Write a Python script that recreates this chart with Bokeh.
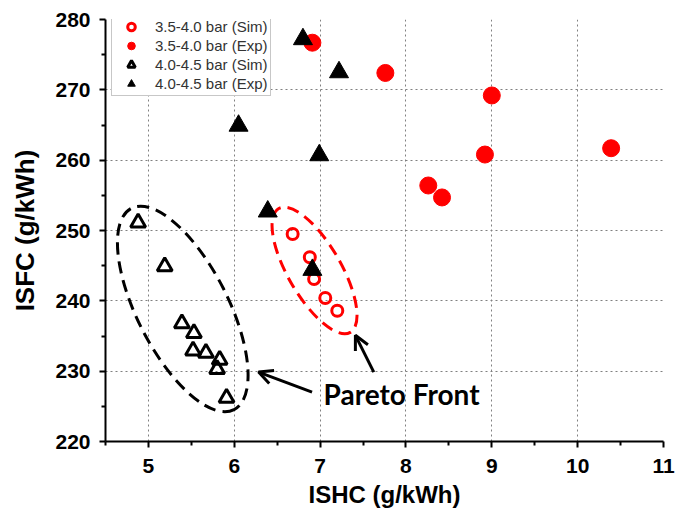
from bokeh.plotting import figure
from bokeh.models import (Range1d, FixedTicker, Arrow, OpenHead, Label, Legend,
                          LegendItem)
from bokeh.embed import file_html
from bokeh.resources import INLINE

# ---------------- data ----------------
sim35_x = [6.68, 6.88, 6.93, 7.06, 7.20]
sim35_y = [249.5, 246.2, 243.1, 240.4, 238.6]

exp35_x = [6.91, 7.76, 9.00, 8.92, 8.26, 8.42, 10.39]
exp35_y = [276.7, 272.4, 269.2, 260.8, 256.4, 254.7, 261.7]

sim45_x = [4.88, 5.19, 5.39, 5.53, 5.52, 5.67, 5.83, 5.80, 5.91]
sim45_y = [251.1, 244.9, 236.8, 235.4, 232.9, 232.6, 231.6, 230.3, 226.2]

exp45_x = [6.80, 7.22, 6.05, 6.99, 6.39, 6.91]
exp45_y = [277.2, 272.5, 264.9, 260.7, 252.7, 244.4]

series_labels = ["3.5-4.0 bar (Sim)", "3.5-4.0 bar (Exp)",
                 "4.0-4.5 bar (Sim)", "4.0-4.5 bar (Exp)"]

x_ticks = [5, 6, 7, 8, 9, 10, 11]
y_ticks = [220, 230, 240, 250, 260, 270, 280]

# Pareto-front ellipses (centres in data units)
front_cx = [5.40, 6.935]
front_cy = [238.85, 244.32]

# annotation: arrows (data units) and text
arrow_x0 = [6.906, 7.625]
arrow_y0 = [227.03, 229.87]
arrow_x1 = [6.283, 7.411]
arrow_y1 = [229.87, 235.1]
note_text = "Pareto Front"
note_x, note_y = 7.04, 226.7

RED = "#ff0000"
AX_FONT = "Liberation Sans"

p = figure(width=686, height=520, x_range=Range1d(4.5, 11), y_range=Range1d(220, 280),
           output_backend="svg", toolbar_location=None,
           min_border_left=105, min_border_right=23, min_border_top=19, min_border_bottom=79)
p.outline_line_color = None
p.background_fill_color = "white"

# axes
p.xaxis.ticker = FixedTicker(ticks=x_ticks, minor_ticks=[4.5, 5.5, 6.5, 7.5, 8.5, 9.5, 10.5])
p.yaxis.ticker = FixedTicker(ticks=y_ticks, minor_ticks=[225, 235, 245, 255, 265, 275])
p.xaxis.axis_label = "ISHC (g/kWh)"
p.yaxis.axis_label = "ISFC (g/kWh)"
for ax in (p.xaxis, p.yaxis):
    ax.axis_line_width = 2
    ax.axis_line_color = "black"
    ax.major_tick_line_width = 2
    ax.minor_tick_line_width = 2
    ax.major_tick_out = 6
    ax.major_tick_in = 0
    ax.minor_tick_out = 4
    ax.minor_tick_in = 0
    ax.major_label_text_font = AX_FONT
    ax.major_label_text_font_style = "bold"
    ax.major_label_text_font_size = "21px"
    ax.major_label_text_color = "black"
    ax.axis_label_text_font = AX_FONT
    ax.axis_label_text_font_style = "bold"
    ax.axis_label_text_color = "black"
p.xaxis.axis_label_text_font_size = "24px"
p.yaxis.axis_label_text_font_size = "26px"
p.xaxis.major_label_standoff = 11
p.xaxis.axis_label_standoff = 5
p.yaxis.major_label_standoff = 9
p.yaxis.axis_label_standoff = 12

# grid
p.xgrid.ticker = FixedTicker(ticks=[5, 6, 7, 8, 9, 10])
p.ygrid.ticker = FixedTicker(ticks=[230, 240, 250, 260, 270])
for g in (p.xgrid, p.ygrid):
    g.grid_line_color = "#808080"
    g.grid_line_dash = "2 3"
    g.grid_line_width = 1

# Pareto ellipses (screen-size)
p.ellipse(x=front_cx[0:1], y=front_cy[0:1], width=226, height=91, angle=-1.10,
          width_units="screen", height_units="screen",
          fill_color=None, line_color="black", line_width=3, line_dash="12 7")
p.ellipse(x=front_cx[1:2], y=front_cy[1:2], width=143, height=53, angle=-1.047,
          width_units="screen", height_units="screen",
          fill_color=None, line_color=RED, line_width=3, line_dash="12 7")

# series
r1 = p.scatter(sim35_x, sim35_y, marker="circle", size=11, fill_color=None,
               line_color=RED, line_width=3)
r2 = p.scatter(exp35_x, exp35_y, marker="circle", size=17, fill_color=RED,
               line_color=RED, line_width=1)
r3 = p.scatter(sim45_x, sim45_y, marker="triangle", size=15, fill_color=None,
               line_color="black", line_width=3)
r4 = p.scatter(exp45_x, exp45_y, marker="triangle", size=19, fill_color="black",
               line_color="black", line_width=1)

# arrows & text
for i in range(len(arrow_x0)):
    p.add_layout(Arrow(x_start=arrow_x0[i], y_start=arrow_y0[i],
                       x_end=arrow_x1[i], y_end=arrow_y1[i],
                       line_width=3, line_color="black",
                       end=OpenHead(size=14, line_width=3, line_color="black")))
p.add_layout(Label(x=note_x, y=note_y, text=note_text, text_font="Lato",
                   text_font_style="bold", text_font_size="28px",
                   text_baseline="middle", text_color="black"))

# legend
legend = Legend(items=[LegendItem(label=series_labels[0], renderers=[r1]),
                       LegendItem(label=series_labels[1], renderers=[r2]),
                       LegendItem(label=series_labels[2], renderers=[r3]),
                       LegendItem(label=series_labels[3], renderers=[r4])],
                location=(6, 345), padding=2, spacing=0,
                glyph_width=34, glyph_height=19, label_height=19,
                label_standoff=7, margin=0,
                label_text_font=AX_FONT, label_text_font_size="15px",
                label_text_color="#333333",
                border_line_color="#909090", border_line_width=1,
                background_fill_color="white", background_fill_alpha=1)
p.add_layout(legend)

open("out.html", "w").write(file_html(p, INLINE))
